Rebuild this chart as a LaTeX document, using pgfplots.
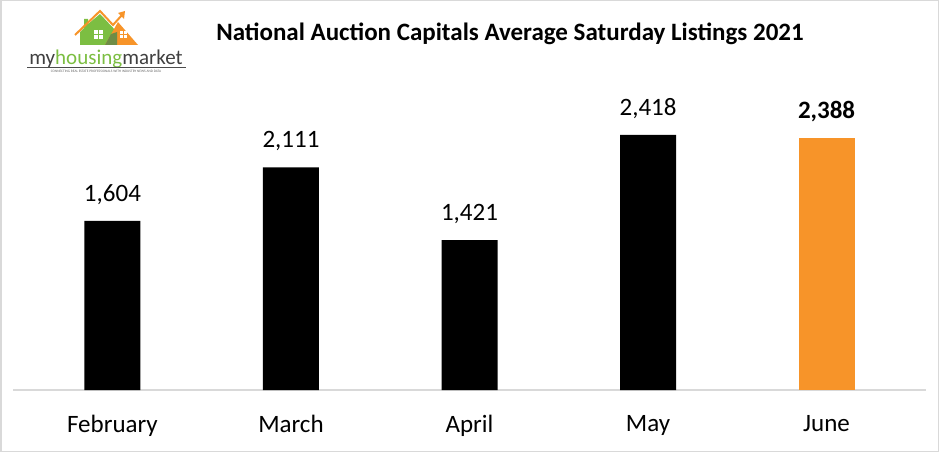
\documentclass[border=0pt]{standalone}
\usepackage{pgfplots}
\pgfplotsset{compat=1.18}
\usepackage{fontspec}
\setmainfont{Carlito}
\definecolor{barorange}{RGB}{247,148,41}
\definecolor{logogreen}{RGB}{124,190,66}
\definecolor{logodkgreen}{RGB}{110,140,70}
\definecolor{axgray}{RGB}{217,217,217}
\begin{document}
\begin{tikzpicture}[x=1pt,y=1pt]
\useasboundingbox (0,0) rectangle (939,-452);
\draw[axgray, line width=1.5pt] (0.75,-0.75) rectangle (938.25,-451.25);
% logo
\fill[logogreen] (80,-45) -- (80,-32) -- (84,-28) -- (84,-19) -- (88,-19) -- (88,-24) -- (100,-14) -- (117,-32) -- (117,-45) -- cycle;
\fill[barorange] (105,-45) -- (118,-22) -- (138,-45) -- cycle;
\fill[logodkgreen] (105,-45) -- (111,-34) -- (117,-32) -- (117,-45) -- cycle;
\draw[barorange, line width=2pt] (75,-35) -- (100,-11) -- (113,-25) -- (122,-15);
\fill[barorange] (125,-11) -- (118,-13) -- (124,-19) -- cycle;
\fill[white] (94,-30) rectangle (98,-34); \fill[white] (99,-30) rectangle (103,-34);
\fill[white] (94,-35) rectangle (98,-39); \fill[white] (99,-35) rectangle (103,-39);
\fill[white] (120,-31) rectangle (123,-34); \fill[white] (124,-31) rectangle (127,-34);
\fill[white] (120,-35) rectangle (123,-38); \fill[white] (124,-35) rectangle (127,-38);
\node[anchor=base, inner sep=0pt, font=\fontsize{21}{21}\selectfont] at (106,-64) {\textcolor{black!75}{my}\textcolor{logogreen}{housing}\textcolor{black!75}{market}};
\draw[black!70, line width=0.6pt] (27,-67) -- (186,-67);
\node[anchor=base, inner sep=0pt, font=\fontsize{3.5}{4}\selectfont, text=black!60] at (106,-73) {CONNECTING REAL ESTATE PROFESSIONALS WITH INDUSTRY NEWS AND DATA};
% title
\node[anchor=base, inner sep=0pt, font=\fontsize{25}{25}\selectfont\bfseries] at (510,-41) {National Auction Capitals Average Saturday Listings 2021};
\begin{axis}[
  at={(13pt,-390pt)}, anchor=south west,
  scale only axis, width=913pt, height=310pt,
  xmin=-0.557, xmax=4.557, ymin=0, ymax=2938,
  axis x line=bottom, axis y line=none,
  x axis line style={-, draw=axgray, line width=1.3pt},
  major tick length=0pt,
  xtick={0,1,2,3,4}, xticklabels={February,March,April,May,June},
  xticklabel style={font=\fontsize{25}{25}\selectfont, yshift=-22pt},
  ybar, bar width=56pt, bar shift=0pt,
  nodes near coords,
  every node near coord/.append style={font=\fontsize{25}{25}\selectfont, yshift=13pt},
  /pgf/number format/assume math mode=true,
  /pgf/number format/1000 sep={,},
  clip=false,
]
\addplot[fill=black, draw=none] coordinates {(0,1604) (1,2111) (2,1421) (3,2418)};
\addplot[fill=barorange, draw=none, every node near coord/.append style={font=\fontsize{25}{25}\selectfont\bfseries}] coordinates {(4,2388)};
\end{axis}
\end{tikzpicture}
\end{document}
